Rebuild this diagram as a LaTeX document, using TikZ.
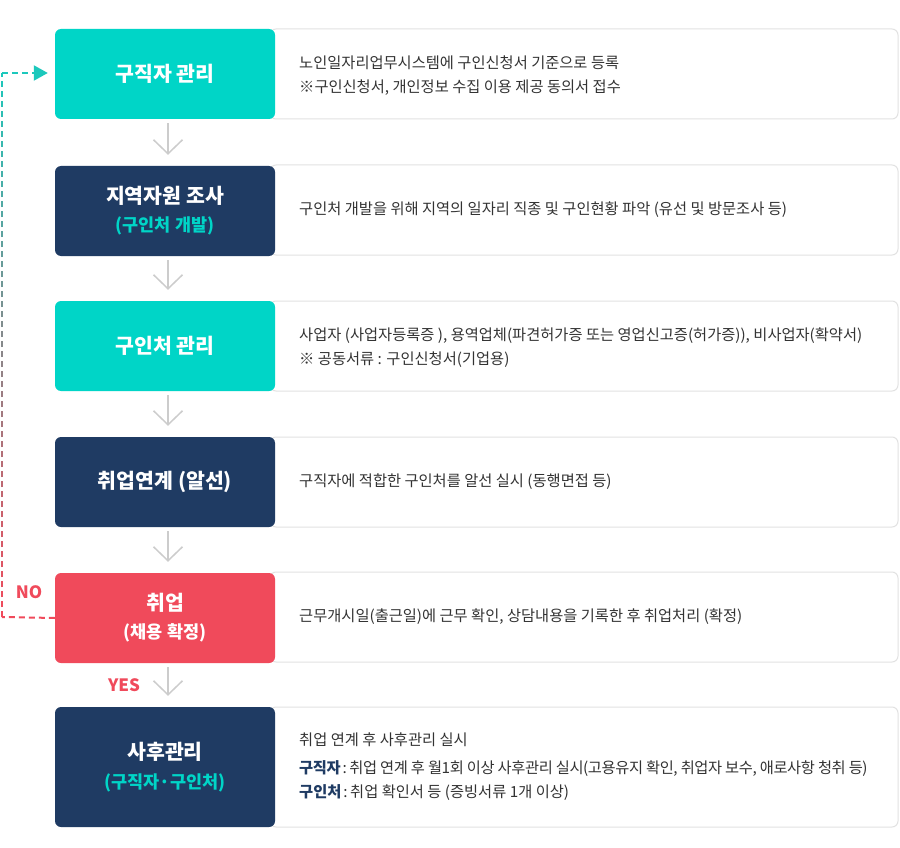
\documentclass[tikz,border=0pt]{standalone}
\usepackage{fontspec}
\setmainfont{Noto Sans CJK KR}
\usetikzlibrary{arrows.meta,calc}
\definecolor{tealc}{HTML}{00D5C7}
\definecolor{navyc}{HTML}{1F3B63}
\definecolor{redc}{HTML}{F04A5B}
\definecolor{dashteal}{HTML}{1CC8BC}
\definecolor{txt}{HTML}{333333}
\definecolor{bord}{HTML}{E2E2E2}
\definecolor{arrowgray}{HTML}{CCCCCC}
\begin{document}
\begin{tikzpicture}[x=1pt,y=-1pt,
  descbox/.style={draw=bord, line width=1pt, fill=white, rounded corners=6pt, minimum width=628pt, minimum height=90pt, inner sep=0pt},
  stagebox/.style={rounded corners=6pt, minimum width=220pt, minimum height=90pt, inner sep=0pt, text=white, font=\fontsize{20.5}{28}\selectfont\bfseries, align=center},
  desc/.style={anchor=west, text=txt, font=\fontsize{15.3}{24}\selectfont, align=left, inner sep=0pt},
  flow/.style={draw=arrowgray, line width=1.5pt, -{Straight Barb[length=14pt,width=29pt]}},
  lbl/.style={text=redc, font=\fontsize{17}{18}\selectfont\bfseries, inner sep=0pt}
]
\useasboundingbox (0,0) rectangle (900,848);
\fill[white] (0,0) rectangle (900,848);

% description boxes
\node[descbox] (d1) at (584,74) {};
\node[descbox] (d2) at (584,210) {};
\node[descbox] (d3) at (584,346) {};
\node[descbox] (d4) at (584,482) {};
\node[descbox] (d5) at (584,617) {};
\node[descbox, minimum height=120pt] (d6) at (584,767) {};

% stage boxes
\node[stagebox, fill=tealc] (b1) at (165,74) {구직자 관리};
\node[stagebox, fill=navyc] (b2) at (165,211) {지역자원 조사\\{\fontsize{17.5}{28}\selectfont\color{tealc}(구인처 개발)}};
\node[stagebox, fill=tealc] (b3) at (165,346) {구인처 관리};
\node[stagebox, fill=navyc] (b4) at (165,482) {취업연계 (알선)};
\node[stagebox, fill=redc] (b5) at (165,618) {취업\\{\fontsize{17.5}{28}\selectfont (채용 확정)}};
\node[stagebox, fill=navyc, minimum height=120pt, font=\fontsize{20.5}{29}\selectfont\bfseries] (b6) at (165,767) {사후관리\\{\fontsize{17.5}{29}\selectfont\color{tealc}(구직자·구인처)}};

% descriptions
\node[desc] (t1) at (299,76) {노인일자리업무시스템에 구인신청서 기준으로 등록\\※구인신청서, 개인정보 수집 이용 제공 동의서 접수};
\node[desc] (t2) at (299,210) {구인처 개발을 위해 지역의 일자리 직종 및 구인현황 파악 (유선 및 방문조사 등)};
\node[desc] (t3) at (299,348) {사업자 (사업자등록증 ), 용역업체(파견허가증 또는 영업신고증(허가증)), 비사업자(확약서)\\※ 공동서류 : 구인신청서(기업용)};
\node[desc] (t4) at (299,482) {구직자에 적합한 구인처를 알선 실시 (동행면접 등)};
\node[desc] (t5) at (299,617) {근무개시일(출근일)에 근무 확인, 상담내용을 기록한 후 취업처리 (확정)};
\node[desc] (t6) at (299,767) {취업 연계 후 사후관리 실시\\[4pt]{\addfontfeature{LetterSpace=-2.6}{\bfseries\color{navyc}구직자}\hspace{2pt}:\hspace{2.5pt}취업 연계 후 월1회 이상 사후관리 실시(고용유지 확인, 취업자 보수, 애로사항 청취 등)}\\{\bfseries\color{navyc}구인처}\hspace{2pt}:\hspace{2.5pt}취업 확인서 등 (증빙서류 1개 이상)};

% flow arrows
\draw[flow] ($(b1.south)+(3,4)$) -- ($(b2.north)+(3,-11)$);
\draw[flow] ($(b2.south)+(3,4)$) -- ($(b3.north)+(3,-11)$);
\draw[flow] ($(b3.south)+(3,4)$) -- ($(b4.north)+(3,-11)$);
\draw[flow] ($(b4.south)+(3,4)$) -- ($(b5.north)+(3,-11)$);
\draw[flow] ($(b5.south)+(3,4)$) -- ($(b6.north)+(3,-11)$);

% labels
\node[lbl] (no) at (29,592) {NO};
\node[lbl] (yes) at (124,685) {YES};

% feedback dashed loop
\coordinate (lb) at (2,617);
\coordinate (lt) at (2,73);
\draw[redc, line width=2pt, dash pattern=on 6pt off 4pt] (b5.west) -- (lb);
\foreach \i in {0,...,54}{
  \pgfmathsetmacro\ya{617-10*\i}
  \pgfmathsetmacro\yb{max(617-10*\i-6,73)}
  \pgfmathtruncatemacro\p{100*\i/54}
  \draw[dashteal!\p!redc, line width=2pt] (2,\ya) -- (2,\yb);
}
\draw[dashteal, line width=2pt, dash pattern=on 6pt off 4pt, shorten >=7pt, -{Triangle[length=14pt,width=15pt]}] (lt) -- (lt -| b1.west);
\end{tikzpicture}
\end{document}
